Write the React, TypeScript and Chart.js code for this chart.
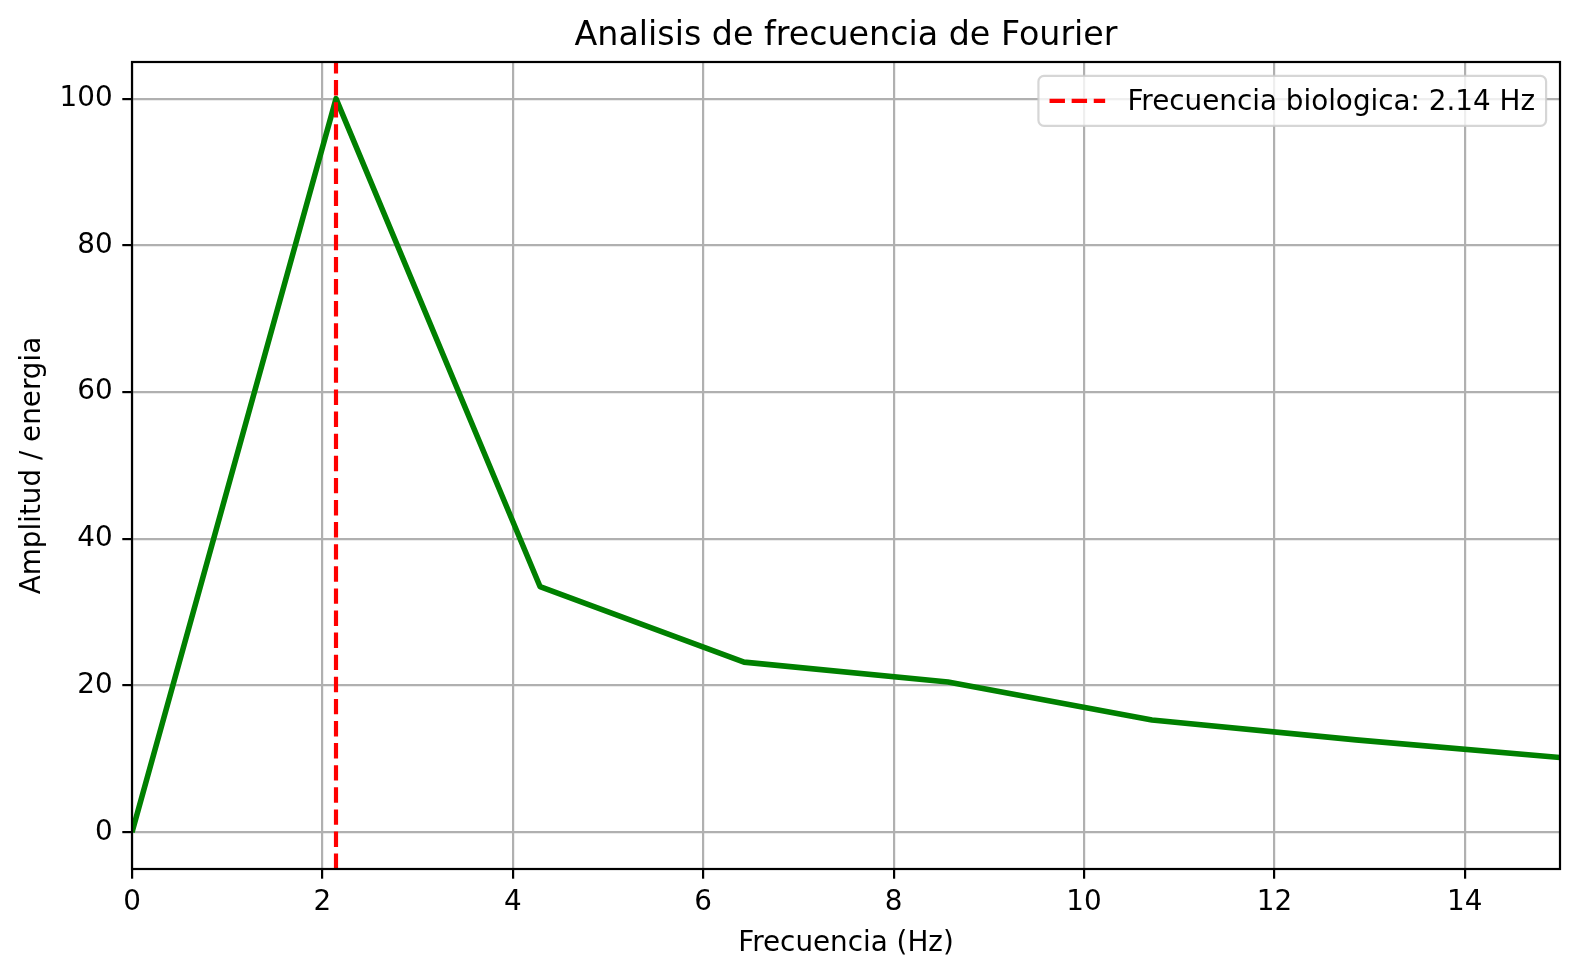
import React, { useEffect, useRef } from "react";
import { Chart, registerables } from "chart.js";

Chart.register(...registerables);

// ---- data ----
const frequencies = [0, 2.142857, 4.285714, 6.428571, 8.571429, 10.714286, 12.857143, 15.0];
const amplitudes = [0, 100, 33.5, 23.2, 20.5, 15.3, 12.6, 10.2];
const peakFrequency = 2.142857;
const xTicks = [0, 2, 4, 6, 8, 10, 12, 14];
const yTicks = [0, 20, 40, 60, 80, 100];
const xLimits = [0, 15];
const yLimits = [-5, 105];
const titleText = "Analisis de frecuencia de Fourier";
const xLabelText = "Frecuencia (Hz)";
const yLabelText = "Amplitud / energia";
const legendLabel = "Frecuencia biologica: 2.14 Hz";

const FONT = '"DejaVu Sans", "Liberation Sans", sans-serif';
const FS = 27.8;
const TITLE_FS = 33.3;
const DASH = [15.4, 6.7];

const decorPlugin = {
  id: "decor",
  afterDatasetsDraw(chart: any) {
    const { ctx, chartArea: a } = chart;
    ctx.save();
    // spines
    ctx.setLineDash([]);
    ctx.strokeStyle = "#000";
    ctx.lineWidth = 2.2;
    ctx.strokeRect(a.left, a.top, a.right - a.left, a.bottom - a.top);

    // legend
    ctx.font = `${FS}px ${FONT}`;
    const tw = ctx.measureText(legendLabel).width;
    const pad = FS * 0.4;
    const handleLen = FS * 2;
    const handleGap = FS * 0.8;
    const w = pad * 2 + handleLen + handleGap + tw;
    const h = 50;
    const right = a.right - FS * 0.5;
    const top = a.top + FS * 0.5;
    const left = right - w;
    ctx.beginPath();
    (ctx as any).roundRect(left, top, w, h, 5.6);
    ctx.fillStyle = "rgba(255,255,255,0.8)";
    ctx.fill();
    ctx.strokeStyle = "rgba(204,204,204,0.8)";
    ctx.lineWidth = 2.2;
    ctx.stroke();
    const midY = top + h / 2;
    ctx.beginPath();
    ctx.setLineDash(DASH);
    ctx.strokeStyle = "red";
    ctx.lineWidth = 4.17;
    ctx.moveTo(left + pad, midY);
    ctx.lineTo(left + pad + handleLen, midY);
    ctx.stroke();
    ctx.setLineDash([]);
    ctx.fillStyle = "#000";
    ctx.textAlign = "left";
    ctx.textBaseline = "alphabetic";
    ctx.fillText(legendLabel, left + pad + handleLen + handleGap, top + 34);

    // title
    const cx = (a.left + a.right) / 2;
    ctx.font = `${TITLE_FS}px ${FONT}`;
    ctx.textAlign = "center";
    ctx.fillText(titleText, cx, a.top - 16.7);

    // x label
    ctx.font = `${FS}px ${FONT}`;
    ctx.fillText(xLabelText, cx, 951);

    // y label
    ctx.save();
    ctx.translate(40.3, (a.top + a.bottom) / 2);
    ctx.rotate(-Math.PI / 2);
    ctx.fillText(yLabelText, 0, 0);
    ctx.restore();

    ctx.restore();
  },
};

export default function App() {
  const canvasRef = useRef<HTMLCanvasElement | null>(null);

  useEffect(() => {
    document.body.style.margin = "0";
    const canvas = canvasRef.current;
    if (!canvas) return;
    const tickFont = { family: FONT, size: FS };
    const chart = new Chart(canvas, {
      type: "line",
      data: {
        datasets: [
          {
            label: legendLabel,
            data: [
              { x: peakFrequency, y: yLimits[0] },
              { x: peakFrequency, y: yLimits[1] },
            ],
            borderColor: "red",
            borderWidth: 4.17,
            borderDash: DASH,
            pointRadius: 0,
            fill: false,
            order: 0,
            clip: 0,
          } as any,
          {
            label: "Amplitud",
            data: frequencies.map((f, i) => ({ x: f, y: amplitudes[i] })),
            borderColor: "green",
            borderWidth: 5.56,
            pointRadius: 0,
            tension: 0,
            fill: false,
            order: 1,
            borderJoinStyle: "round",
            borderCapStyle: "butt",
            clip: 0,
          } as any,
        ],
      },
      options: {
        animation: false,
        responsive: false,
        devicePixelRatio: 1,
        layout: { padding: { left: 0, right: 20, top: 62, bottom: 0 } },
        plugins: {
          legend: { display: false },
          tooltip: { enabled: false },
          title: { display: false },
        },
        scales: {
          x: {
            type: "linear",
            min: xLimits[0],
            max: xLimits[1],
            afterBuildTicks: (s: any) => {
              s.ticks = xTicks.map((v) => ({ value: v }));
            },
            afterFit: (s: any) => {
              s.height = 108;
            },
            grid: {
              color: "#b0b0b0",
              lineWidth: 2.2,
              tickLength: 9.7,
              tickColor: "#000",
              tickWidth: 2.2,
              drawTicks: true,
            },
            border: { display: false },
            ticks: {
              font: tickFont,
              color: "#000",
              padding: 7,
              maxRotation: 0,
              autoSkip: false,
            },
          },
          y: {
            type: "linear",
            min: yLimits[0],
            max: yLimits[1],
            afterBuildTicks: (s: any) => {
              s.ticks = yTicks.map((v) => ({ value: v }));
            },
            afterFit: (s: any) => {
              s.width = 132;
            },
            grid: {
              color: "#b0b0b0",
              lineWidth: 2.2,
              tickLength: 9.7,
              tickColor: "#000",
              tickWidth: 2.2,
              drawTicks: true,
            },
            border: { display: false },
            ticks: {
              font: tickFont,
              color: "#000",
              padding: 9.7,
              autoSkip: false,
            },
          },
        },
      } as any,
      plugins: [decorPlugin],
    });
    return () => chart.destroy();
  }, []);

  return (
    <div style={{ position: "absolute", left: 0, top: 0, width: 1580, height: 977, background: "#fff" }}>
      <canvas ref={canvasRef} width={1580} height={977} style={{ display: "block" }} />
    </div>
  );
}
